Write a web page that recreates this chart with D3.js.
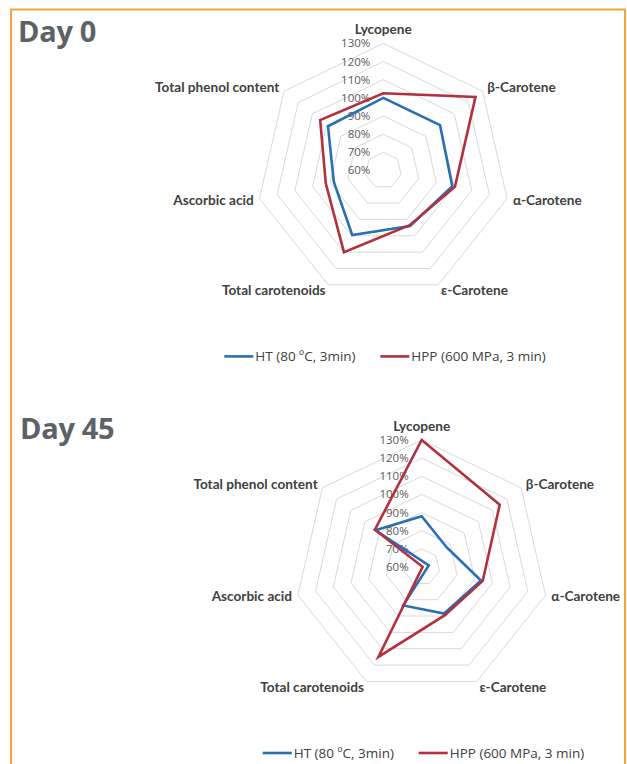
<!DOCTYPE html>
<html>
<head>
<meta charset="utf-8">
<script src="https://cdn.jsdelivr.net/npm/d3@7/dist/d3.min.js"></script>
<style>
  html, body { margin: 0; padding: 0; background: #ffffff; }
  svg { display: block; }
</style>
</head>
<body>
<svg id="chart" width="627" height="764"></svg>
<script>
// ---- Data ----
const categories = ["Lycopene", "β-Carotene", "α-Carotene", "ε-Carotene",
                    "Total carotenoids", "Ascorbic acid", "Total phenol content"];
const tickValues = [0.7, 0.8, 0.9, 1.0, 1.1, 1.2, 1.3];
const tickLabels = ["60%", "70%", "80%", "90%", "100%", "110%", "120%", "130%"];
const tickLabelValues = [0.6, 0.7, 0.8, 0.9, 1.0, 1.1, 1.2, 1.3];
const seriesNames = ["HT (80 ºC, 3min)", "HPP (600 MPa, 3 min)"];
const day0HT  = [1.00, 1.00, 0.99, 0.94, 0.995, 0.88, 0.99];
const day0HPP = [1.025, 1.25, 1.005, 0.935, 1.10, 0.925, 1.045];
const day45HT  = [0.88, 0.775, 0.935, 0.885, 0.835, 0.56, 0.925];
const day45HPP = [1.30, 1.15, 0.945, 0.895, 1.15, 0.595, 0.93];
const titles = ["Day 0", "Day 45"];

// ---- Layout / style ----
const colors = ["#2a6eb3", "#b3303d"];
const R = 127;
const charts = [
  { title: titles[0], tx: 18, ty: 41.5, cx: 383.3, cy: 170.4, series: [day0HT, day0HPP] },
  { title: titles[1], tx: 20, ty: 439, cx: 421.7, cy: 567, series: [day45HT, day45HPP] }
];

const svg = d3.select("#chart");

// orange frame
svg.append("rect")
  .attr("x", 11).attr("y", 9.5)
  .attr("width", 614).attr("height", 800)
  .attr("fill", "none")
  .attr("stroke", "#f4a340")
  .attr("stroke-width", 2);

const r = d3.scaleLinear().domain([0.6, 1.3]).range([0, R]);
const n = categories.length;
const angle = i => i * 2 * Math.PI / n;

const radial = d3.lineRadial()
  .angle((d, i) => angle(i))
  .radius(d => r(d))
  .curve(d3.curveLinearClosed);

charts.forEach(c => {
  const g = svg.append("g").attr("transform", `translate(${c.cx},${c.cy})`);

  // title
  svg.append("text")
    .attr("x", c.tx).attr("y", c.ty)
    .attr("font-family", "'Open Sans', sans-serif")
    .attr("font-weight", 700)
    .attr("font-size", 29)
    .attr("fill", "#5c6268")
    .attr("letter-spacing", -0.3)
    .text(c.title);

  // grid rings
  g.selectAll("path.ring")
    .data(tickValues)
    .enter().append("path")
    .attr("class", "ring")
    .attr("d", v => radial(categories.map(() => v)))
    .attr("fill", "none")
    .attr("stroke", "#d9d9d9")
    .attr("stroke-width", 1);

  // tick labels
  g.selectAll("text.tick")
    .data(tickLabelValues)
    .enter().append("text")
    .attr("class", "tick")
    .attr("x", -13)
    .attr("y", v => -r(v))
    .attr("dy", "0.35em")
    .attr("text-anchor", "end")
    .attr("font-family", "'Open Sans', sans-serif")
    .attr("font-size", 11.5)
    .attr("fill", "#595959")
    .text((v, i) => tickLabels[i]);

  // series
  c.series.forEach((s, si) => {
    g.append("path")
      .attr("d", radial(s))
      .attr("fill", "none")
      .attr("stroke", colors[si])
      .attr("stroke-width", 2.6)
      .attr("stroke-linejoin", "miter");
  });

  // category labels
  categories.forEach((cat, i) => {
    const a = angle(i);
    const pr = R + 6;
    const sx = Math.sin(a), cy = -Math.cos(a);
    let x = pr * sx, y = pr * cy;
    let anchor = "middle";
    if (sx > 0.1) anchor = "start";
    else if (sx < -0.1) anchor = "end";
    if (i === 0) y -= 8;
    g.append("text")
      .attr("x", x).attr("y", y)
      .attr("dy", "0.35em")
      .attr("text-anchor", anchor)
      .attr("font-family", "Lato, sans-serif")
      .attr("font-weight", 700)
      .attr("font-size", 13.6)
      .attr("fill", "#404040")
      .text(cat);
  });

  // legend
  const lg = g.append("g").attr("transform", `translate(0, 186)`);
  const items = [
    { x0: -159, name: seriesNames[0], color: colors[0] },
    { x0: -3, name: seriesNames[1], color: colors[1] }
  ];
  items.forEach(it => {
    lg.append("line")
      .attr("x1", it.x0).attr("x2", it.x0 + 29)
      .attr("y1", 0).attr("y2", 0)
      .attr("stroke", it.color).attr("stroke-width", 2.6);
    lg.append("text")
      .attr("x", it.x0 + 31).attr("y", 0)
      .attr("dy", "0.35em")
      .attr("font-family", "'Open Sans', sans-serif")
      .attr("font-size", 13.5)
      .attr("fill", "#404040")
      .text(it.name);
  });
});
</script>
</body>
</html>
